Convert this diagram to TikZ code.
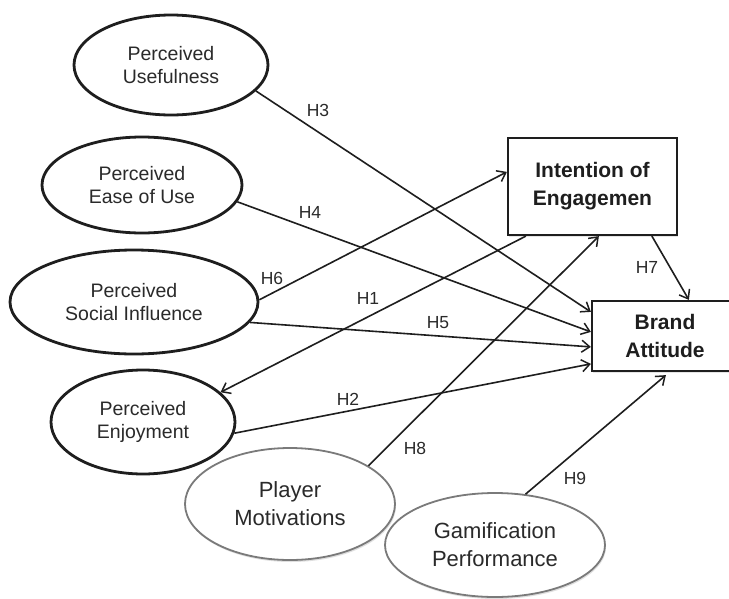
\documentclass[tikz,border=0pt]{standalone}
\usepackage{fontspec}
\setmainfont{Liberation Sans}
\usetikzlibrary{shapes.geometric,arrows.meta,calc,shadows}
\definecolor{ink}{HTML}{1E1E1E}
\definecolor{txt}{HTML}{2A2A2A}
\definecolor{greyline}{HTML}{7A7A7A}
\begin{document}
\begin{tikzpicture}[x=1pt,y=-1pt,
  construct/.style={ellipse,draw=ink,fill=white,line width=2.8pt,inner sep=0pt,align=center,
    text=txt,font=\fontsize{19.5}{23}\selectfont},
  outcome/.style={ellipse,draw=greyline,fill=white,line width=1.8pt,inner sep=0pt,align=center,
    text=txt,font=\fontsize{22}{28}\selectfont,
    drop shadow={opacity=0.25,shadow xshift=1pt,shadow yshift=-2pt}},
  target/.style={rectangle,draw=ink,fill=white,line width=2.2pt,inner sep=0pt,align=center,
    text=ink,font=\fontsize{21}{28}\selectfont\bfseries,
    drop shadow={opacity=0.2,shadow xshift=1pt,shadow yshift=-2pt}},
  path/.style={draw=ink,line width=1.6pt,-{Straight Barb[length=8pt,width=12pt,line width=1.5pt]}},
  hyp/.style={text=txt,font=\fontsize{17.5}{20}\selectfont,inner sep=1pt}]
\useasboundingbox (0,0) rectangle (729,598);
\fill[white] (0,0) rectangle (729,598);

% antecedent constructs
\node[construct,minimum width=194pt,minimum height=100pt] (pu) at (171,65) {Perceived\\Usefulness};
\node[construct,minimum width=200pt,minimum height=96pt] (peu) at (142,185) {Perceived\\Ease of Use};
\node[construct,minimum width=248pt,minimum height=104pt] (psi) at (134,302) {Perceived\\Social Influence};
\node[construct,minimum width=184pt,minimum height=104pt] (pe) at (143,422) {Perceived\\Enjoyment};

% moderating constructs
\node[outcome,minimum width=210pt,minimum height=112pt] (pm) at (290,504) {Player\\Motivations};
\node[outcome,minimum width=220pt,minimum height=104pt] (gp) at (495,545) {Gamification\\Performance};

% dependent constructs
\node[target,minimum width=169pt,minimum height=97pt] (ie) at (592.5,186.5) {Intention of\\Engagemen};
\node[target,minimum width=146pt,minimum height=70pt] (ba) at (665,336) {Brand\\Attitude};

% hypothesised paths
\draw[path] (pu.-17) -- ($(ba.north west)+(0,12)$);
\draw[path] (peu.-10) -- ($(ba.north west)+(0,32)$);
\draw[path] (psi.1) -- ($(ie.north west)+(0,35)$);
\draw[path] ($(ie.south west)+(19,0)$) -- (pe.21);
\draw[path] (psi.-10) -- ($(ba.north west)+(0,47)$);
\draw[path] (pe.-7) -- ($(ba.north west)+(0,64)$);
\draw[path] (pm.26) -- ($(ie.south west)+(92,0)$);
\draw[path] ($(ie.south west)+(145,0)$) -- ($(ba.north west)+(98,0)$);
\draw[path] (gp.59) -- ($(ba.south west)+(75,3)$);

% hypothesis labels
\node[hyp] (h3) at (318,110) {H3};
\node[hyp] (h4) at (310,212) {H4};
\node[hyp] (h6) at (272,278) {H6};
\node[hyp] (h1) at (368,298) {H1};
\node[hyp] (h5) at (438,323) {H5};
\node[hyp] (h2) at (348,399) {H2};
\node[hyp] (h8) at (415,448) {H8};
\node[hyp] (h9) at (575,478) {H9};
\node[hyp] (h7) at (647,267) {H7};
\end{tikzpicture}
\end{document}
